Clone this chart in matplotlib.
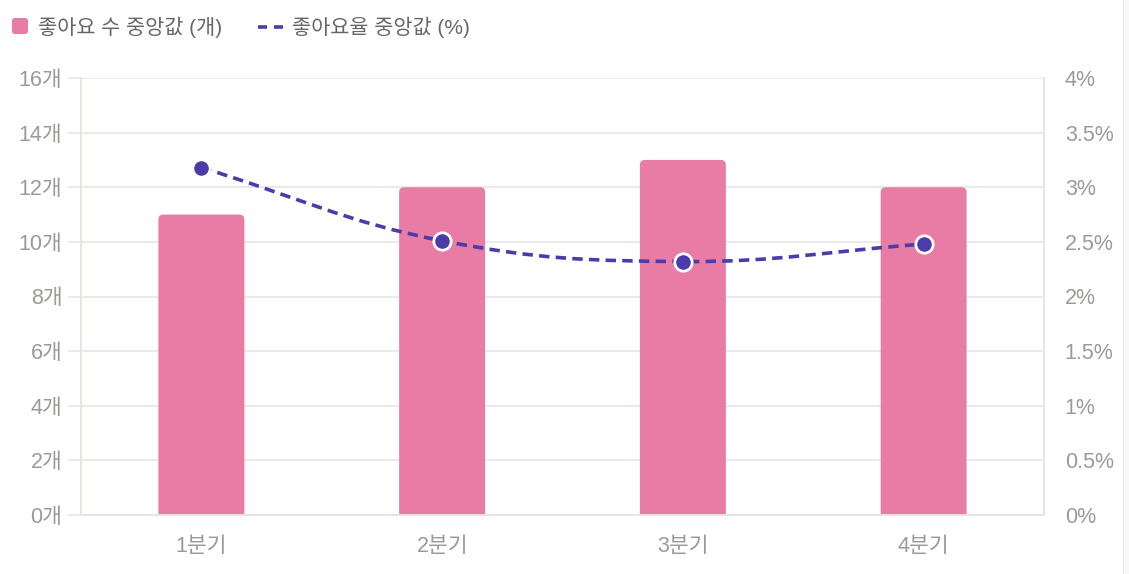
import numpy as np
import matplotlib
matplotlib.use("Agg")
import matplotlib.pyplot as plt
from matplotlib.patches import FancyBboxPatch, PathPatch, Rectangle
from matplotlib.lines import Line2D
from matplotlib.path import Path

plt.rcParams["font.family"] = ["Liberation Sans", "Noto Sans CJK KR", "DejaVu Sans"]
plt.rcParams["lines.scale_dashes"] = False

# ─── data ────────────────────────────────────────────────────────────────────
quarters = ["1분기", "2분기", "3분기", "4분기"]
likes_median = [11, 12, 13, 12]             # 좋아요 수 중앙값 (개)
like_rate_median = [3.18, 2.51, 2.32, 2.48]  # 좋아요율 중앙값 (%)

left_ticks = [0, 2, 4, 6, 8, 10, 12, 14, 16]
right_ticks = [0, 0.5, 1, 1.5, 2, 2.5, 3, 3.5, 4]

legend_labels = ["좋아요 수 중앙값 (개)", "좋아요율 중앙값 (%)"]

BAR_COLOR = "#e87ca4"
LINE_COLOR = "#4b3bab"
GRID_COLOR = "#e6e6e1"
TICK_COLOR = "#9a9a97"
TEXT_COLOR = "#666666"
DASH = (0, (7.5, 4.5))
FS = 15.5

W, H = 1129, 574
fig = plt.figure(figsize=(W / 100, H / 100), dpi=100)


def fx(px):
    return px / W


def fy(py):
    # py measured from the top of the image
    return 1 - py / H


ax = fig.add_axes([fx(81), fy(515), fx(1044 - 81), (515 - 78) / H])
ax2 = ax.twinx()

x = np.arange(len(quarters))
ax.set_xlim(-0.5, len(quarters) - 0.5)
ax.set_ylim(0, 16)
ax2.set_ylim(0, 4)

# ─── bars with rounded tops ──────────────────────────────────────────────────
ax_w_px = 1044 - 81
ax_h_px = 515 - 78
x_per_px = len(quarters) / ax_w_px
y_per_px = 16 / ax_h_px
aspect = y_per_px / x_per_px
radius = 5 * x_per_px
bar_w = 0.357
for xi, v in zip(x, likes_median):
    r_y = radius * aspect
    p = FancyBboxPatch((xi - bar_w / 2, -r_y), bar_w, v + r_y,
                       boxstyle=f"round,pad=0,rounding_size={radius}",
                       mutation_aspect=aspect, fc=BAR_COLOR, ec="none",
                       zorder=2)
    ax.add_patch(p)

# ─── smooth line (bezier, tension 0.4) ───────────────────────────────────────
fig.canvas.draw()
pts = ax2.transData.transform(np.column_stack([x, like_rate_median]))
t = 0.4
n = len(pts)
cps = []
for i in range(n):
    prev = pts[i - 1] if i > 0 else pts[i]
    cur = pts[i]
    nxt = pts[i + 1] if i < n - 1 else pts[i]
    d01 = np.hypot(*(cur - prev))
    d12 = np.hypot(*(nxt - cur))
    tot = d01 + d12
    s01 = d01 / tot if tot else 0
    s12 = d12 / tot if tot else 0
    cps.append((cur - t * s01 * (nxt - prev), cur + t * s12 * (nxt - prev)))
verts = [pts[0]]
codes = [Path.MOVETO]
for i in range(n - 1):
    verts += [cps[i][1], cps[i + 1][0], pts[i + 1]]
    codes += [Path.CURVE4] * 3
verts = ax2.transData.inverted().transform(np.array(verts))
curve = PathPatch(Path(verts, codes), fill=False, ec=LINE_COLOR, lw=2.6,
                  linestyle=DASH, zorder=3, capstyle="butt")
ax2.add_patch(curve)
ax2.plot(x, like_rate_median, linestyle="none", marker="o", ms=12.5,
         mfc=LINE_COLOR, mec="white", mew=2, zorder=4, clip_on=False)

# ─── axes styling ────────────────────────────────────────────────────────────
ax.set_yticks(left_ticks)
ax.set_yticklabels([f"{v}개" for v in left_ticks])
ax2.set_yticks(right_ticks)
ax2.set_yticklabels([f"{v:g}%" for v in right_ticks])
ax.set_xticks(x)
ax.set_xticklabels(quarters)

ax.grid(axis="y", color=GRID_COLOR, lw=1.2, zorder=0)
ax.set_axisbelow(True)
for a in (ax, ax2):
    a.spines["top"].set_visible(False)
    for s in ("left", "right", "bottom"):
        a.spines[s].set_color(GRID_COLOR)
        a.spines[s].set_linewidth(1.2)
ax.tick_params(axis="y", length=9.5, width=1.2, color=GRID_COLOR,
               labelcolor=TICK_COLOR, labelsize=FS, pad=4)
ax.tick_params(axis="x", length=0, labelcolor=TICK_COLOR, labelsize=FS, pad=15)
ax2.tick_params(axis="y", length=0, labelcolor=TICK_COLOR, labelsize=FS, pad=15)

# ─── legend (drawn by hand, top-left) ────────────────────────────────────────
fig.patches.append(FancyBboxPatch((fx(12), fy(34)), fx(16), 16 / H,
                                  boxstyle=f"round,pad=0,rounding_size={fx(3)}",
                                  mutation_aspect=W / H, fc=BAR_COLOR, ec="none",
                                  transform=fig.transFigure, figure=fig))
fig.text(fx(38), fy(27), legend_labels[0], fontsize=15, color=TEXT_COLOR,
         va="center", ha="left")
fig.lines.append(Line2D([fx(258), fx(284)], [fy(27), fy(27)], color=LINE_COLOR,
                        lw=2.6, linestyle=(0, (6.5, 5)), transform=fig.transFigure,
                        figure=fig))
fig.text(fx(292), fy(27), legend_labels[1], fontsize=15, color=TEXT_COLOR,
         va="center", ha="left")

# faint frame edge on the right side of the screenshot
fig.patches.append(Rectangle((fx(1123), 0), fx(6), 1, fc="#f7f8f7",
                             ec="none", transform=fig.transFigure, figure=fig))
fig.lines.append(Line2D([fx(1123), fx(1123)], [0, 1], color="#e3ece3", lw=1,
                        transform=fig.transFigure, figure=fig))

fig.savefig("out.png", dpi=100, facecolor="white")
